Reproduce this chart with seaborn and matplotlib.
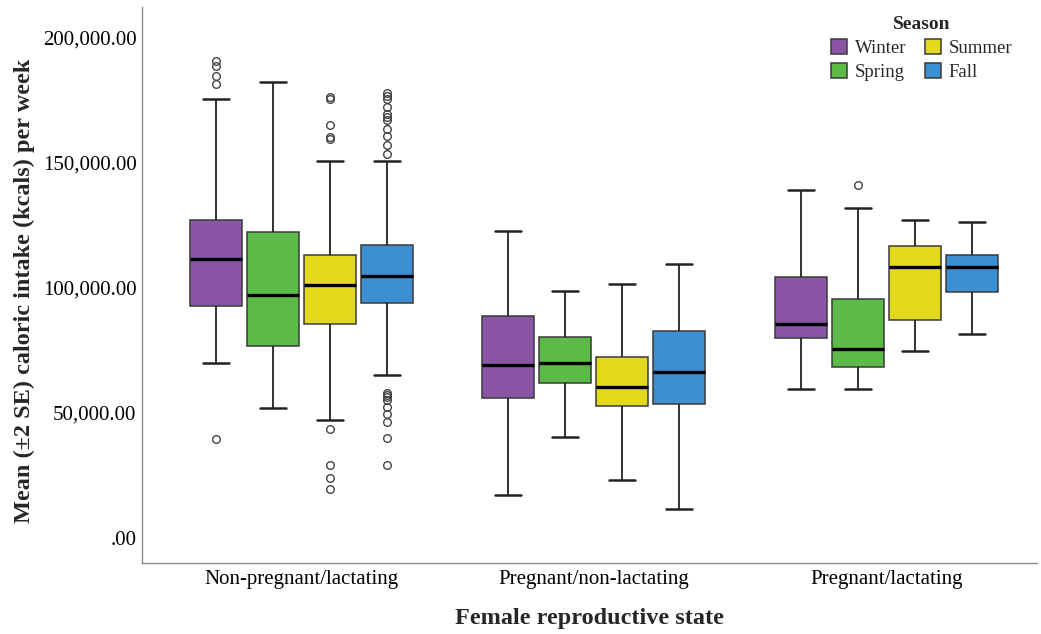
import numpy as np
import pandas as pd
import matplotlib
matplotlib.use("Agg")
import matplotlib.pyplot as plt
from matplotlib.ticker import FuncFormatter, FixedLocator
import seaborn as sns

# ---------------- data ----------------
states = ["Non-pregnant/lactating", "Pregnant/non-lactating", "Pregnant/lactating"]
seasons = ["Winter", "Spring", "Summer", "Fall"]
colors = ["#8b55a5", "#5cba46", "#e4d81a", "#3b8fd2"]

# rows: states, columns: seasons (Winter, Spring, Summer, Fall)
q1 = [[92600, 76600, 85400, 93900],
      [55900, 62000, 52700, 53400],
      [79700, 68400, 87000, 98300]]
median = [[111400, 97000, 101000, 104600],
          [69100, 69900, 60300, 66100],
          [85300, 75600, 108200, 108100]]
q3 = [[126800, 122300, 113000, 117000],
      [88600, 80400, 72400, 82500],
      [104300, 95500, 116400, 113100]]
whisker_low = [[69900, 52000, 47200, 64900],
               [17200, 40300, 23300, 11700],
               [59400, 59400, 74800, 81400]]
whisker_high = [[175200, 182000, 150500, 150500],
                [122700, 98700, 101400, 109500],
                [138900, 131600, 127100, 126000]]
outliers = [
    [[190500, 188400, 184400, 181400, 39400],
     [],
     [175900, 175100, 164900, 160200, 159400, 43500, 29100, 24100, 19700],
     [177500, 176400, 175400, 171900, 169300, 168200, 166900, 163300, 160600,
      156900, 153200, 57800, 57100, 56200, 55100, 52200, 49600, 46200, 40000, 29000]],
    [[], [], [], []],
    [[], [141000], [], []],
]

yticks = [0, 50000, 100000, 150000, 200000]

# Build a tidy table whose box statistics equal the values above
K = 40
rows = []
for i, st in enumerate(states):
    for j, se in enumerate(seasons):
        vals = (list(outliers[i][j]) + [whisker_low[i][j]] + [q1[i][j]] * K +
                [median[i][j]] * K + [q3[i][j]] * K + [whisker_high[i][j]])
        for v in vals:
            rows.append((st, se, v))
df = pd.DataFrame(rows, columns=["state", "season", "kcal"])

# ---------------- plot ----------------
sns.set_style("white")
plt.rcParams["font.family"] = ["Liberation Serif", "DejaVu Serif"]

fig = plt.figure(figsize=(10.41, 6.34), dpi=100)
ax = fig.add_axes([142 / 1041, 1 - 563 / 634, (1037 - 142) / 1041, (563 - 7) / 634])

sns.boxplot(data=df, x="state", y="kcal", hue="season", order=states,
            hue_order=seasons, palette=colors, saturation=1,
            width=0.78, gap=0.09, linecolor="#3a3a3a", linewidth=1.1,
            whis=1.5, ax=ax,
            flierprops=dict(marker="o", markerfacecolor="none",
                            markeredgecolor="#444444", markersize=5.5,
                            markeredgewidth=1.0),
            medianprops=dict(color="black", linewidth=2.4),
            whiskerprops=dict(color="#222222", linewidth=1.3),
            capprops=dict(color="#222222", linewidth=1.8))

ax.set_xlim(-0.545, 2.516)
ax.set_ylim(-10000, 212000)
ax.yaxis.set_major_locator(FixedLocator(yticks))


def fmt(v, pos):
    s = f"{v:,.2f}"
    if s.startswith("0"):
        s = s[1:]
    return s


ax.yaxis.set_major_formatter(FuncFormatter(fmt))
ax.tick_params(axis="both", length=0, labelsize=15, labelcolor="black")
ax.tick_params(axis="y", pad=4)
ax.tick_params(axis="x", pad=5)

for s in ["top", "right"]:
    ax.spines[s].set_visible(False)
for s in ["left", "bottom"]:
    ax.spines[s].set_color("#8c8c8c")
    ax.spines[s].set_linewidth(1.0)

ax.set_xlabel("Female reproductive state", fontsize=17.5, fontweight="bold", labelpad=14)
ax.set_ylabel("Mean (\u00b12 SE) caloric intake (kcals) per week", fontsize=17.5,
              fontweight="bold")
ax.yaxis.set_label_coords(24 / 1041, 1 - 291 / 634, transform=fig.transFigure)
ax.yaxis.label.set_verticalalignment("center")

sns.move_legend(ax, "upper right", bbox_to_anchor=(1025 / 1041, 1 - 3 / 634),
                bbox_transform=fig.transFigure, ncol=2, title="Season",
                frameon=False, fontsize=13.5, title_fontproperties={"weight": "bold", "size": 14},
                handlelength=0.85, handleheight=0.9, handletextpad=0.4,
                columnspacing=1.0, labelspacing=0.3, borderpad=0.2)

fig.savefig("out.png", dpi=100)
